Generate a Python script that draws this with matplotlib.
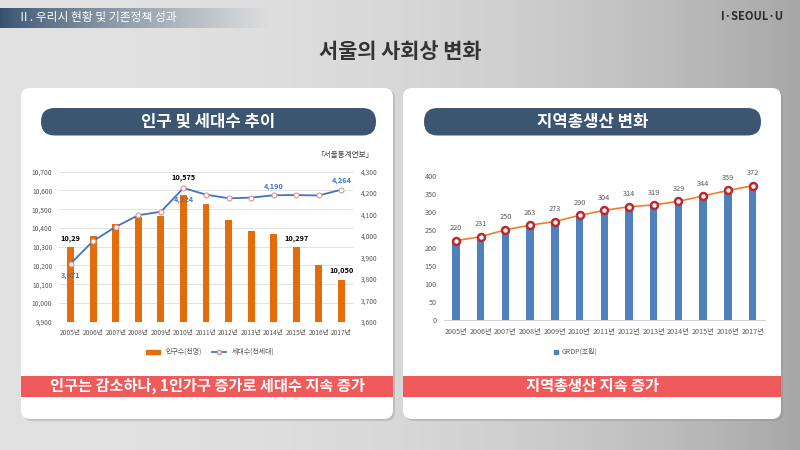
import numpy as np
import matplotlib
matplotlib.use("Agg")
import matplotlib.pyplot as plt
from matplotlib.patches import FancyBboxPatch, Rectangle, Patch
from matplotlib.lines import Line2D
from matplotlib.ticker import FuncFormatter, MultipleLocator

plt.rcParams['font.family'] = ['Noto Sans CJK KR', 'DejaVu Sans']

# ---- data ----
years = ['2005년', '2006년', '2007년', '2008년', '2009년', '2010년', '2011년',
         '2012년', '2013년', '2014년', '2015년', '2016년', '2017년']
population = [10297, 10355, 10419, 10457, 10464, 10576, 10528,
              10441, 10385, 10368, 10297, 10201, 10124]   # 인구수(천명)
households = [3871, 3977, 4043, 4097, 4113, 4224, 4193,
              4176, 4179, 4190, 4191, 4189, 4216]          # 세대수(천세대)
pop_labels = {0: '10,29', 5: '10,575', 10: '10,297', 12: '10,050'}
hh_labels = {0: '3,871', 5: '4,224', 9: '4,190', 12: '4,264'}
grdp = [220, 231, 250, 263, 273, 290, 304, 314, 319, 329, 344, 359, 372]  # GRDP(조원)

W, H = 800, 450
fig = plt.figure(figsize=(8, 4.5), dpi=100)

def px_axes(x0, y0, x1, y1):
    return fig.add_axes([x0 / W, 1 - y1 / H, (x1 - x0) / W, (y1 - y0) / H])

# ---- slide background ----
bg = fig.add_axes([0, 0, 1, 1])
bg.set_xlim(0, W)
bg.set_ylim(H, 0)
bg.axis('off')
xx = np.linspace(0, 1, 400)
shade = 0.885 - 0.23 * xx ** 2.5
grad = np.tile(shade, (50, 1))
grad = np.dstack([grad, grad, grad])
bg.imshow(grad, extent=[0, W, H, 0], aspect='auto', zorder=0)

# top-left banner fading out
ban = np.zeros((10, 300, 4))
ban[..., 0] = 0x34 / 255
ban[..., 1] = 0x50 / 255
ban[..., 2] = 0x6e / 255
ban[..., 3] = np.clip(1 - np.linspace(0, 1, 300) ** 0.8, 0, 1)
bg.imshow(ban, extent=[0, 270, 28, 8], aspect='auto', zorder=1)
bg.text(18, 18, 'Ⅱ. 우리시 현황 및 기존정책 성과', color='white', fontsize=8.5,
        va='center', ha='left', zorder=2)
bg.text(752, 17, 'I·SEOUL·U', color='#2b2b2b', fontsize=8, fontweight='bold',
        va='center', ha='center', zorder=2)
bg.text(400, 52, '서울의 사회상 변화', color='#333333', fontsize=15,
        fontweight='bold', va='center', ha='center', zorder=2)

# panels
for x0, x1 in [(21, 393), (403, 781)]:
    bg.add_patch(FancyBboxPatch((x0 + 2, 90), x1 - x0, 331,
                                boxstyle='round,pad=0,rounding_size=9',
                                fc='#8a8a8a', ec='none', alpha=0.35, zorder=2))
    bg.add_patch(FancyBboxPatch((x0, 88), x1 - x0, 331,
                                boxstyle='round,pad=0,rounding_size=9',
                                fc='white', ec='none', zorder=3))

# pills
pills = [(41, 376, '인구 및 세대수 추이'), (424, 761, '지역총생산 변화')]
for x0, x1, txt in pills:
    bg.add_patch(FancyBboxPatch((x0, 108), x1 - x0, 27.5,
                                boxstyle='round,pad=0,rounding_size=13.7',
                                fc='#3c5671', ec='none', zorder=4))
    bg.text((x0 + x1) / 2, 121.5, txt, color='white', fontsize=12,
            fontweight='bold', ha='center', va='center', zorder=5)

# red conclusion bands
bands = [(21, 393, '인구는 감소하나, 1인가구 증가로 세대수 지속 증가'),
         (403, 781, '지역총생산 지속 증가')]
for x0, x1, txt in bands:
    bg.add_patch(Rectangle((x0, 375.5), x1 - x0, 21, fc='#f15a5a', ec='none',
                           zorder=4))
    bg.text((x0 + x1) / 2, 386, txt, color='white', fontsize=11,
            fontweight='bold', ha='center', va='center', zorder=5)

bg.text(373, 155, '「서울통계연보」', color='#404040', fontsize=5.5,
        ha='right', va='center', zorder=5)

thousands = FuncFormatter(lambda v, p: '{:,.0f}'.format(v))
x = np.arange(len(years))

# ---- left chart: population bars + households line ----
ax1 = px_axes(59.4, 171.7, 352.6, 321.7)
ax1.bar(x, population, width=0.31, color='#e46c0a', zorder=2)
ax1.set_ylim(9900, 10700)
ax1.yaxis.set_major_locator(MultipleLocator(100))
ax1.yaxis.set_major_formatter(thousands)
ax1.yaxis.grid(True, color='#dddddd', lw=0.6)
ax1.set_axisbelow(True)
ax1.set_xlim(-0.5, len(years) - 0.5)
ax1.set_xticks(x)
ax1.set_xticklabels(years)
ax1.tick_params(length=0, labelsize=4.8, colors='#595959')
ax1.tick_params(axis='y', pad=5)
ax1.tick_params(axis='x', pad=5)
for s in ax1.spines.values():
    s.set_visible(False)
ax1.patch.set_alpha(0)

ax2 = ax1.twinx()
ax2.plot(x, households, color='#4472c4', lw=1.3, marker='o', ms=3.6,
         mfc='white', mec='#e08a80', mew=0.7, zorder=3)
ax2.set_ylim(3600, 4300)
ax2.yaxis.set_major_locator(MultipleLocator(100))
ax2.yaxis.set_major_formatter(thousands)
ax2.tick_params(length=0, labelsize=4.8, colors='#595959', pad=6)
for s in ax2.spines.values():
    s.set_visible(False)

for i, txt in pop_labels.items():
    if i == 5:
        ax2.annotate(txt, (x[i], households[i]), xytext=(0, 5),
                     textcoords='offset points', ha='center', va='bottom',
                     fontsize=5.3, fontweight='bold', color='black')
    else:
        ax1.annotate(txt, (x[i], population[i]), xytext=(0, 4),
                     textcoords='offset points', ha='center', va='bottom',
                     fontsize=5.3, fontweight='bold', color='black')
for i, txt in hh_labels.items():
    below = i in (0, 5)
    ax2.annotate(txt, (x[i], households[i]), xytext=(0, -6 if below else 4),
                 textcoords='offset points', ha='center',
                 va='top' if below else 'bottom', fontsize=5.3,
                 fontweight='bold', color='#3a78c8')

fig.legend(handles=[Patch(color='#e46c0a'),
                    Line2D([], [], color='#4472c4', lw=1.3, marker='o', ms=3,
                           mfc='white', mec='#e08a80')],
           labels=['인구수(천명)', '세대수(천세대)'], ncol=2, frameon=False,
           fontsize=5, loc='center', bbox_to_anchor=(210 / W, 1 - 352 / H),
           handlelength=2, handleheight=0.5, columnspacing=1.5,
           labelcolor='#595959')

# ---- right chart: GRDP ----
ax3 = px_axes(443.6, 175.7, 765, 320)
ax3.bar(x, grdp, width=0.3, color='#4f81bd', zorder=2)
ax3.plot(x, grdp, color='#ed7d31', lw=1.2, marker='o', ms=5,
         mfc='white', mec='#c0272d', mew=1.8, zorder=3)
for xi, v in zip(x, grdp):
    ax3.annotate(str(v), (xi, v), xytext=(0, 6), textcoords='offset points',
                 ha='center', va='bottom', fontsize=5.3, color='#595959')
ax3.set_ylim(0, 400)
ax3.yaxis.set_major_locator(MultipleLocator(50))
ax3.set_xlim(-0.5, len(years) - 0.5)
ax3.set_xticks(x)
ax3.set_xticklabels(years)
ax3.tick_params(length=0, labelsize=5.2, colors='#595959')
ax3.tick_params(axis='y', pad=5)
ax3.tick_params(axis='x', pad=6)
for s in ('top', 'right', 'left'):
    ax3.spines[s].set_visible(False)
ax3.spines['bottom'].set_color('#d0d0d0')
ax3.spines['bottom'].set_linewidth(0.7)
ax3.patch.set_alpha(0)

fig.legend(handles=[Line2D([], [], ls='none', marker='s', ms=3,
                           color='#4f81bd')],
           labels=['GRDP(조원)'], frameon=False, fontsize=5,
           loc='center', bbox_to_anchor=(575 / W, 1 - 352 / H),
           handlelength=0.8, handletextpad=0.4, labelcolor='#595959')

fig.savefig('out.png', dpi=100)
